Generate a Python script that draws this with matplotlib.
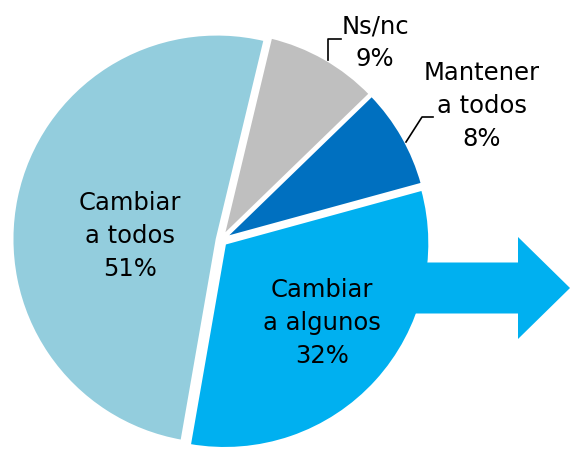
import matplotlib.pyplot as plt
import matplotlib.patches as mpatches

# data
labels = ["Ns/nc", "Mantener\na todos", "Cambiar\na algunos", "Cambiar\na todos"]
values = [9, 8, 32, 51]
colors = ["#BFBFBF", "#0070C0", "#00B0F0", "#93CDDD"]

W, H = 570, 451
fig = plt.figure(figsize=(W / 100, H / 100), dpi=100, facecolor="white")
ax = fig.add_axes([0, 0, 1, 1])

cx, cy, r = 221, H - 240, 205

# explode given in pixels (pie uses absolute data units)
wedges, _ = ax.pie(
    values,
    colors=colors,
    startangle=76.5,
    counterclock=False,
    center=(cx, cy),
    radius=r,
    explode=[4, 4, 5, 4],
    wedgeprops={"edgecolor": "white", "linewidth": 2},
    frame=True,
)
for w in wedges:
    w.set_zorder(2)

# arrow coming out of "Cambiar a algunos"
arrow = mpatches.FancyArrow(
    405, H - 288, 165, 0, width=51, head_width=102, head_length=52,
    length_includes_head=True, color=colors[2], lw=0, zorder=3,
)
ax.add_patch(arrow)

ax.set_xlim(0, W)
ax.set_ylim(0, H)
ax.set_aspect("equal")
ax.axis("off")

txt = dict(ha="center", va="center", fontsize=17.5, color="black",
           linespacing=1.45, zorder=5)
pos = [(375, H - 43), (482, H - 106), (322, H - 323), (130, H - 236)]
for lab, v, (x, y) in zip(labels, values, pos):
    ax.text(x, y, f"{lab}\n{v}%", **txt)

# leader lines
ax.plot([328, 328, 341], [H - 60, H - 39, H - 39], color="black", lw=1.2, zorder=5)
ax.plot([406, 422, 433], [H - 142, H - 117, H - 117], color="black", lw=1.2, zorder=5)

fig.savefig("out.png", dpi=100, facecolor="white")
